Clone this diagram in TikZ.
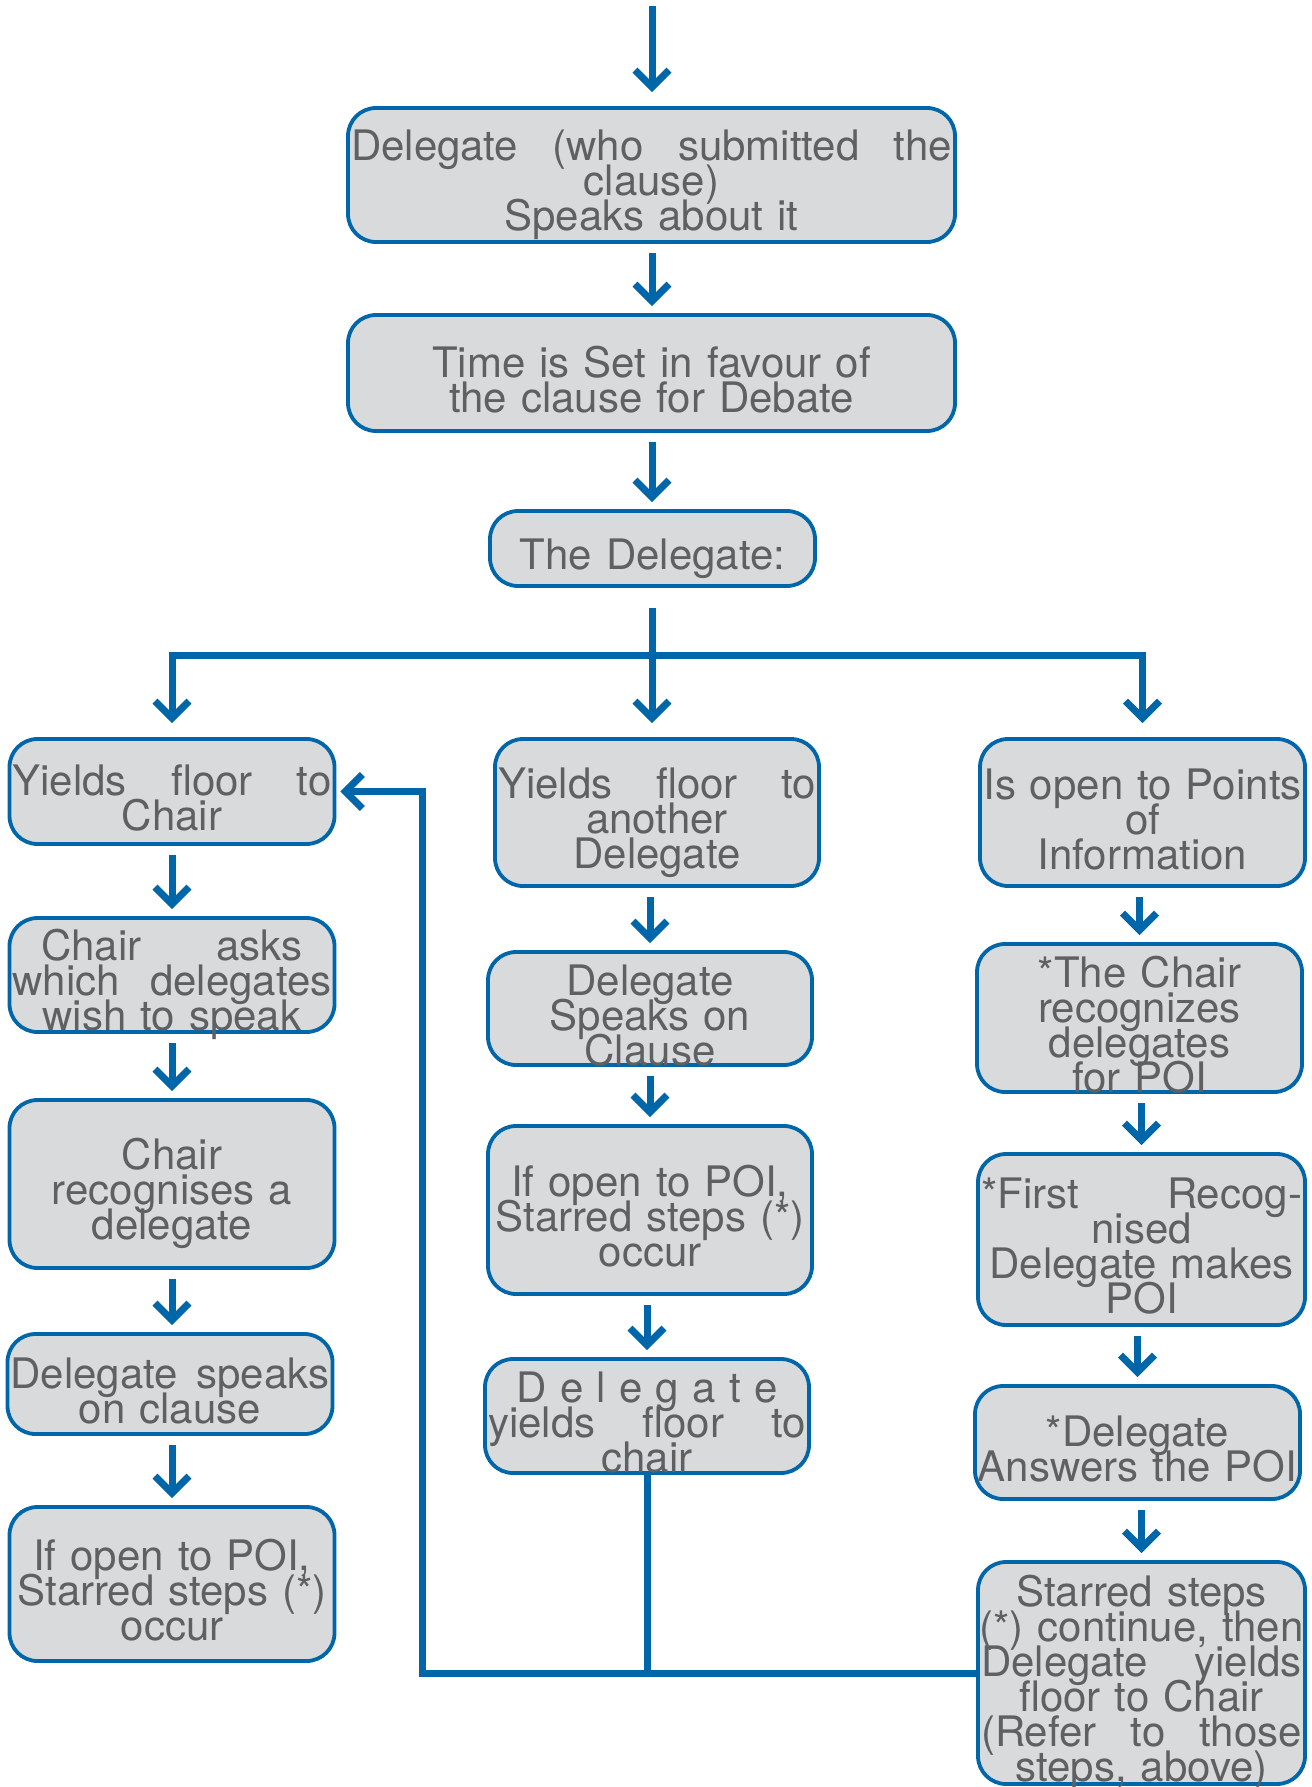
\documentclass[tikz,border=0pt]{standalone}
\usepackage{fontspec}
\setmainfont{TeX Gyre Heros}
\usetikzlibrary{arrows.meta}
\definecolor{bl}{HTML}{0066AA}
\definecolor{bx}{HTML}{D9DADC}
\definecolor{tx}{HTML}{5F6062}
\newcommand\jl[2][\hsize]{\makebox[#1][s]{\spaceskip=0pt\xspaceskip=0pt #2}}
\newcommand\cl[1]{\makebox[\hsize]{#1}}
\begin{document}
\begin{tikzpicture}[x=1pt,y=-1pt,
  box/.style 2 args={draw=bl, fill=bx, line width=3.8pt, rounded corners=28pt,
    text=tx, font=\fontsize{42}{35}\selectfont, align=center,
    execute at begin node={\lineskiplimit=-100pt\lineskip=0pt\noindent\rule{0pt}{51pt}},
    execute at end node={\rule[-8pt]{0pt}{8pt}},
    inner xsep=3pt, inner ysep=-30pt, text width=#1, minimum height=#2},
  ln/.style={draw=bl, line width=7pt},
  arr/.style={ln, -{Straight Barb[length=17pt,width=34pt]}, shorten >=7pt, shorten <=9pt}]
\useasboundingbox (0,0) rectangle (1311,1787);

\node[box={601}{134}] (b1) at (651.5,175) {\jl{Delegate (who submitted the}\\clause)\\Speaks about it};
\node[box={601}{116}] (b2) at (651.5,373) {Time is Set in favour of\\the clause for Debate};
\node[box={319}{75}] (b3) at (652.5,548.5) {The Delegate:};

\node[box={319}{105}] (l1) at (172,791.5) {\jl{Yields floor to}\\Chair};
\node[box={319}{114}] (l2) at (172,975) {\jl[0.82\hsize]{Chair asks}\\\jl{which delegates}\\wish to speak};
\node[box={319}{168}] (l3) at (172,1184) {Chair\\recognises a\\delegate};
\node[box={319}{100}] (l4) at (170,1384) {\jl{Delegate speaks}\\on clause};
\node[box={319}{154}] (l5) at (172,1584) {If open to POI,\\\cl{Starred steps (*)}\\occur};

\node[box={318}{147}] (m1) at (657,812.5) {\jl{Yields floor to}\\another\\Delegate};
\node[box={318}{113}] (m2) at (650,1008.5) {Delegate\\Speaks on\\Clause};
\node[box={318}{168}] (m3) at (650,1210) {If open to POI,\\\cl{Starred steps (*)}\\occur};
\node[box={318}{114}] (m4) at (647,1416) {\jl[0.82\hsize]{D e l e g a t e}\\\jl{yields floor to}\\chair};

\node[box={319}{147}] (r1) at (1142.5,812.5) {\cl{Is open to Points}\\of\\Information};
\node[box={319}{148}] (r2) at (1139.5,1018) {*The Chair\\recognizes\\delegates\\for POI};
\node[box={321}{171}] (r3) at (1141.5,1239.5) {\jl{*First Recog-}\\nised\\\cl{Delegate makes}\\POI};
\node[box={319}{113}] (r4) at (1137.5,1442.5) {*Delegate\\\cl{Answers the POI}};
\node[box={321}{222}] (r5) at (1141.5,1673) {Starred steps\\\cl{(*) continue, then}\\\jl{Delegate yields}\\floor to Chair\\\jl{(Refer to those}\\steps, above)};

\coordinate (start) at (652,6);
\coordinate (hub) at (652,655);
\coordinate (fb) at (422,0);

\draw[arr, shorten <=0pt, shorten >=14pt] (start) -- (start |- b1.north);
\draw[arr] (b1.south -| start) -- (b2.north -| start);
\draw[arr] (b2.south -| start) -- (b3.north -| start);
\draw[ln, shorten <=20pt] (b3.south -| hub) -- (hub);
\draw[arr, shorten <=0pt, shorten >=14pt] (hub) -| (l1.north);
\draw[arr, shorten <=0pt, shorten >=14pt] (hub) -- (hub |- m1.north);
\draw[arr, shorten <=0pt, shorten >=14pt] (hub) -| (r1.north);

\draw[arr] (l1.south) -- (l2.north);
\draw[arr] (l2.south) -- (l3.north);
\draw[arr] (l3.south) -- (l3.south |- l4.north);
\draw[arr] (l4.south -| l5.north) -- (l5.north);

\draw[arr] (m1.south -| m2.north) -- (m2.north);
\draw[arr] (m2.south) -- (m3.north);
\draw[arr] (m3.south -| m4.north) -- (m4.north);

\draw[arr] (r1.south -| r2.north) -- (r2.north);
\draw[arr] (r2.south -| r3.north) -- (r3.north);
\draw[arr] (r3.south -| r4.north) -- (r4.north);
\draw[arr] (r4.south -| r5.north) -- (r5.north);

\draw[ln] (m4.south) -- (m4.south |- r5.west);
\draw[arr, shorten <=0pt, shorten >=4pt] (r5.west) -- (r5.west -| fb) |- (l1.east);
\end{tikzpicture}
\end{document}
